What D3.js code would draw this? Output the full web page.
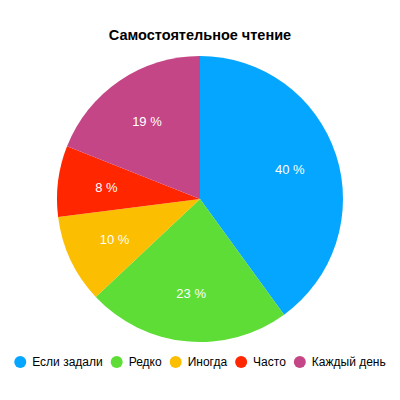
<!DOCTYPE html>
<html><head><meta charset="utf-8">
<script src="https://cdn.jsdelivr.net/npm/d3@7"></script>
<style>body{margin:0;background:#fff}svg{display:block}</style>
</head><body>
<svg id="c" width="400" height="400"></svg>
<script>
const title = "Самостоятельное чтение";
const categories = ["Если задали", "Редко", "Иногда", "Часто", "Каждый день"];
const values = [40, 23, 10, 8, 19];
const colors = ["#05A6FF", "#5DDD35", "#FBBE00", "#FF2600", "#C54686"];

const svg = d3.select("#c");
const font = "'Liberation Sans', Arial, Helvetica, sans-serif";
const cx = 200, cy = 199, R = 143;

svg.append("text").attr("x", 200).attr("y", 40).attr("text-anchor", "middle")
  .attr("font-family", font).attr("font-weight", "bold").attr("font-size", 14.5)
  .attr("fill", "#000").text(title);

const data = categories.map((c, i) => ({c, v: values[i], col: colors[i]}));
const pie = d3.pie().value(d => d.v).sort(null);
const arc = d3.arc().innerRadius(0).outerRadius(R);
const labelArc = d3.arc().innerRadius(R * 0.66).outerRadius(R * 0.66);
const g = svg.append("g").attr("transform", `translate(${cx},${cy})`);
const arcs = pie(data);
g.selectAll("path").data(arcs).join("path").attr("d", arc).attr("fill", d => d.data.col);
g.selectAll("text").data(arcs).join("text")
  .attr("transform", d => `translate(${labelArc.centroid(d)})`)
  .attr("text-anchor", "middle").attr("dy", "0.35em")
  .attr("font-family", font).attr("font-size", 13).attr("fill", "#fff")
  .text(d => d.data.v + " %");

// legend
const lg = svg.append("g").attr("transform", "translate(0,362)");
const items = lg.selectAll("g").data(data).join("g");
items.append("circle").attr("r", 6).attr("fill", d => d.col);
items.append("text").attr("x", 12).attr("dy", "0.35em")
  .attr("font-family", font).attr("font-size", 12).attr("fill", "#000").text(d => d.c);
const gap = 14;
let x = 0; const pos = [];
items.each(function(d) {
  const w = d3.select(this).select("text").node().getComputedTextLength();
  pos.push(x); x += 12 + w + gap;
});
const total = x - gap + 6;
const start = 200 - total / 2 + 6;
items.attr("transform", (d, i) => `translate(${start + pos[i]},0)`);
</script>
</body></html>
